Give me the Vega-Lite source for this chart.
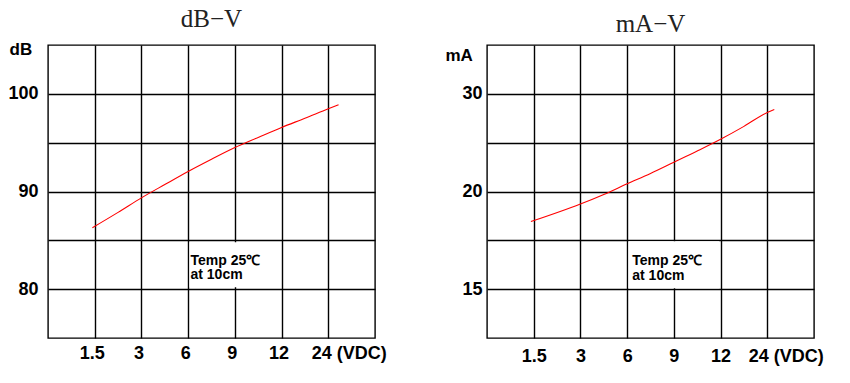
{
  "$schema": "https://vega.github.io/schema/vega-lite/v6.json",
  "background": "white",
  "padding": {"left": 7, "top": 6, "right": 5, "bottom": 5},
  "bounds": "flush",
  "spacing": 112,
  "config": {
    "view": {"stroke": "black", "strokeWidth": 1.4},
    "axis": {
      "grid": true, "gridColor": "black", "gridOpacity": 1, "gridWidth": 1.4,
      "ticks": false, "domain": false,
      "labelFont": "Liberation Sans", "labelFontWeight": "bold", "labelFontSize": 18, "labelColor": "black",
      "titleFont": "Liberation Sans", "titleFontWeight": "bold", "titleFontSize": 17, "titleColor": "black"
    },
    "title": {"font": "Liberation Serif", "fontSize": 25, "fontWeight": "normal", "color": "#222", "offset": 8}
  },
  "datasets": {
    "db": [
      {"v": 0.95, "val": 86.29},
      {"v": 1.5, "val": 87.86},
      {"v": 2, "val": 89.35},
      {"v": 2.5, "val": 90.71},
      {"v": 3, "val": 92.05},
      {"v": 3.5, "val": 93.3},
      {"v": 4, "val": 94.5},
      {"v": 4.5, "val": 95.54},
      {"v": 5, "val": 96.56},
      {"v": 5.5, "val": 97.5},
      {"v": 6, "val": 98.47},
      {"v": 6.22, "val": 98.88}
    ],
    "ma": [
      {"v": 0.94, "val": 18.46},
      {"v": 2, "val": 19.36},
      {"v": 2.5, "val": 19.85},
      {"v": 3, "val": 20.79},
      {"v": 3.5, "val": 21.85},
      {"v": 4, "val": 23.0},
      {"v": 4.5, "val": 24.15},
      {"v": 5, "val": 25.35},
      {"v": 5.5, "val": 26.67},
      {"v": 6, "val": 28.1},
      {"v": 6.15, "val": 28.4}
    ]
  },
  "hconcat": [
    {
      "title": {"text": "dB−V"},
      "width": 327,
      "height": 293,
      "layer": [
        {
          "data": {"values": [{"x1": 3.03, "x2": 4.97, "y1": 80.2, "y2": 84.8}]},
          "mark": {"type": "rect", "fill": "white", "stroke": null},
          "encoding": {
            "x": {"field": "x1", "type": "quantitative", "scale": {"domain": [0, 7], "nice": false, "zero": false},
              "axis": {"values": [1, 2, 3, 4, 5, 6], "title": null, "labelPadding": 6,
                "labelExpr": "['','1.5','3','6','9','12','24 (VDC)'][datum.value]",
                "labelAlign": {"condition": {"test": "datum.value == 6", "value": "left"}, "value": "center"},
                "labelOffset": {"condition": {"test": "datum.value == 6", "value": -17}, "value": -3}}},
            "x2": {"field": "x2"},
            "y": {"field": "y1", "type": "quantitative", "scale": {"domain": [75, 105], "nice": false, "zero": false},
              "axis": {"values": [80, 85, 90, 95, 100], "labelPadding": 10,
                "labelExpr": "datum.value % 10 == 0 ? datum.label : ''",
                "title": "dB", "titleAngle": 0, "titleAlign": "left", "titleBaseline": "alphabetic", "titleX": -39, "titleY": 9}},
            "y2": {"field": "y2"}
          }
        },
        {
          "data": {"name": "db"},
          "mark": {"type": "line", "color": "#ff0000", "strokeWidth": 1.1, "interpolate": "monotone"},
          "encoding": {
            "x": {"field": "v", "type": "quantitative"},
            "y": {"field": "val", "type": "quantitative"}
          }
        },
        {
          "data": {"values": [{"x": 3.05, "y": 82.5, "t": "Temp 25℃\nat 10cm"}]},
          "mark": {"type": "text", "align": "left", "baseline": "alphabetic", "font": "Liberation Sans", "fontWeight": "bold", "fontSize": 14, "lineHeight": 14.5, "lineBreak": "\n", "color": "black"},
          "encoding": {
            "x": {"field": "x", "type": "quantitative"},
            "y": {"field": "y", "type": "quantitative"},
            "text": {"field": "t"}
          }
        }
      ]
    },
    {
      "title": {"text": "mA−V"},
      "width": 327,
      "height": 293,
      "layer": [
        {
          "data": {"values": [{"x1": 3.03, "x2": 4.97, "y1": 15.05, "y2": 17.45}]},
          "mark": {"type": "rect", "fill": "white", "stroke": null},
          "encoding": {
            "x": {"field": "x1", "type": "quantitative", "scale": {"domain": [0, 7], "nice": false, "zero": false},
              "axis": {"values": [1, 2, 3, 4, 5, 6], "title": null, "labelPadding": 9,
                "labelExpr": "['','1.5','3','6','9','12','24 (VDC)'][datum.value]",
                "labelAlign": {"condition": {"test": "datum.value == 6", "value": "left"}, "value": "center"},
                "labelOffset": {"condition": {"test": "datum.value == 6", "value": -19}, "value": 0}}},
            "x2": {"field": "x2"},
            "y": {"field": "y1", "type": "quantitative", "scale": {"domain": [12.5, 20, 35], "range": [293, 146.5, 0], "nice": false, "zero": false},
              "axis": {"values": [15, 17.5, 20, 25, 30], "labelPadding": 5,
                "labelExpr": "(datum.value == 17.5 || datum.value == 25) ? '' : datum.label",
                "title": "mA", "titleAngle": 0, "titleAlign": "left", "titleBaseline": "alphabetic", "titleX": -42, "titleY": 15}},
            "y2": {"field": "y2"}
          }
        },
        {
          "data": {"name": "ma"},
          "mark": {"type": "line", "color": "#ff0000", "strokeWidth": 1.1, "interpolate": "monotone"},
          "encoding": {
            "x": {"field": "v", "type": "quantitative"},
            "y": {"field": "val", "type": "quantitative"}
          }
        },
        {
          "data": {"values": [{"x": 3.11, "y": 16.23, "t": "Temp 25℃\nat 10cm"}]},
          "mark": {"type": "text", "align": "left", "baseline": "alphabetic", "font": "Liberation Sans", "fontWeight": "bold", "fontSize": 14, "lineHeight": 14.5, "lineBreak": "\n", "color": "black"},
          "encoding": {
            "x": {"field": "x", "type": "quantitative"},
            "y": {"field": "y", "type": "quantitative"},
            "text": {"field": "t"}
          }
        }
      ]
    }
  ]
}
